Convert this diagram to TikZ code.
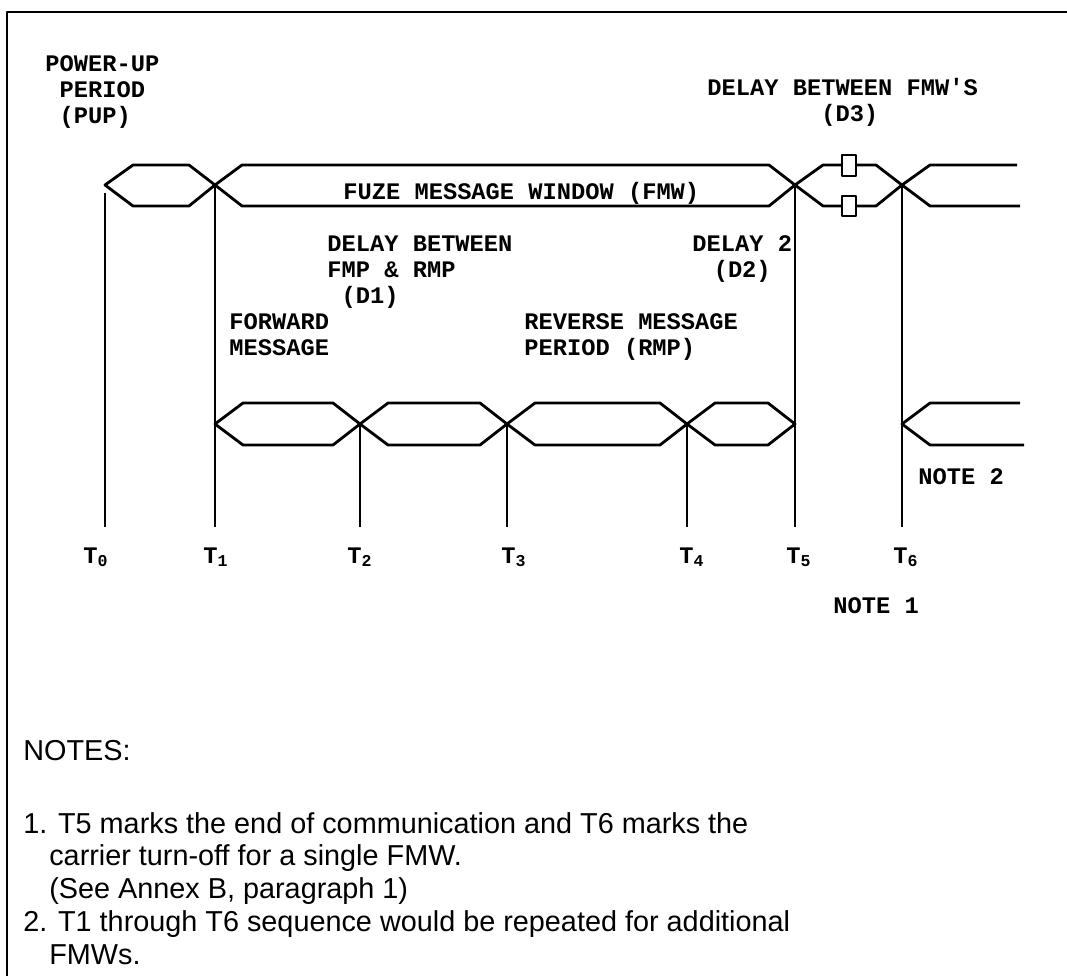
\documentclass[tikz,border=0pt]{standalone}
\usepackage{fontspec}
\setmonofont{Liberation Mono}
\newfontfamily\notefont{Liberation Sans}
\usetikzlibrary{positioning}

\begin{document}
\begin{tikzpicture}[x=0.02cm, y=-0.02cm, line width=1.6pt, line join=round,
  font=\ttfamily\bfseries\fontsize{13.5}{14.8}\selectfont,
  lbl/.style={anchor=north west, inner sep=0pt, align=left},
  tick/.style={anchor=base, inner sep=0pt},
  notetext/.style={lbl, font=\notefont\fontsize{16.4}{18.6}\selectfont}]
  \useasboundingbox (0,0) rectangle (1067,976);
  \draw (7,976) -- (7,12) -- (1067,12);
  % time marks and their labels
  \foreach \n/\x/\y/\lx in {0/105/193/96, 1/215/185/216, 2/360/424/360, 3/507/424/514,
                            4/687/424/692, 5/795/185/799, 6/902/185/906} {
    \draw (\x,\y) coordinate (top\n) -- (\x,527) coordinate (bot\n);
    \node[tick] (t\n) at (\lx,563) {T\textsubscript{\n}};
  }
  % upper bus: PUP, FMW, D3 and the next FMW
  \draw (105,185) -- (133,165) -- (189,165) -- (215,185) -- (189,206) -- (133,206) -- cycle;
  \draw (215,185) -- (242,165) -- (769,165) -- (795,185) -- (769,206) -- (242,206) -- cycle;
  \draw (842,165) -- (823,165) -- (795,185) -- (823,206) -- (842,206);
  \draw (856,165) -- (876,165) -- (902,185) -- (876,206) -- (856,206);
  \draw[fill=white] (842,155) rectangle (856,176);
  \draw[fill=white] (842,196) rectangle (856,216);
  \draw (1017,165) -- (930,165) -- (902,185) -- (930,206) -- (1020,206);
  % lower bus: forward message, D1, reverse message, D2
  \foreach \a/\b in {215/360, 360/507, 507/687, 687/795}
    \draw (\a,424) -- ({\a+28},403) -- ({\b-27},403) -- (\b,424)
          -- ({\b-27},445) -- ({\a+28},445) -- cycle;
  \draw (1020,403) -- (930,403) -- (902,424) -- (930,445) -- (1024,445);
  % labels
  \node[lbl] (pup) at (44,54) {POWER-UP\\~PERIOD\\~(PUP)};
  \node[lbl] (d3) at (706,77) {DELAY BETWEEN FMW'S\\~~~~~~~~(D3)};
  \node[lbl] (fmw) at (342,181) {FUZE MESSAGE WINDOW (FMW)};
  \node[lbl] (d1) at (326,234) {DELAY BETWEEN\\FMP \& RMP\\~(D1)};
  \node[lbl, align=center] (d2) at (691,234) {DELAY 2\\(D2)};
  \node[lbl] (fwd) at (228,312) {FORWARD\\MESSAGE};
  \node[lbl] (rmp) at (523,312) {REVERSE MESSAGE\\PERIOD (RMP)};
  \node[lbl] (note2) at (917,467) {NOTE 2};
  \node[lbl] (note1) at (832,596) {NOTE 1};
  % notes
  \node[notetext] (notes) at (22,739) {NOTES:};
  \node[notetext] (notelist) at (22,811)
    {1. T5 marks the end of communication and T6 marks the\\
     \hspace*{0.9em}carrier turn-off for a single FMW.\\
     \hspace*{0.9em}(See Annex B, paragraph 1)\\
     2. T1 through T6 sequence would be repeated for additional\\
     \hspace*{0.9em}FMWs.};
\end{tikzpicture}
\end{document}
